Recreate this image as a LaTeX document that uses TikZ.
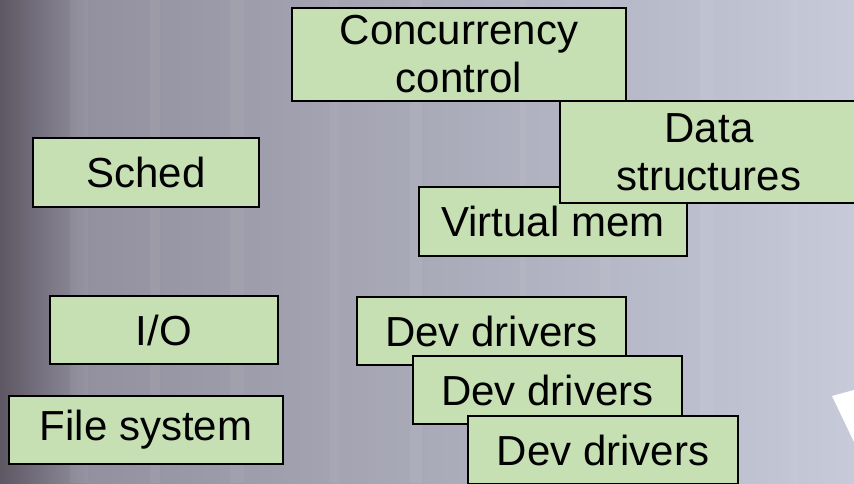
\documentclass[tikz,border=0pt]{standalone}
\usepackage{fontspec}
\setmainfont{Liberation Sans}
\usetikzlibrary{positioning}
\definecolor{boxgreen}{HTML}{C6E0B4}
\definecolor{bgdark}{HTML}{5E5764}
\definecolor{bgmid}{HTML}{93919F}
\definecolor{bgcentre}{HTML}{ABAFC0}
\definecolor{bglight}{HTML}{C6CAD9}

\begin{document}
\begin{tikzpicture}[
    x=1pt, y=-1pt,
    part/.style={draw=black, fill=boxgreen, line width=2pt, inner sep=0pt,
        align=center, font=\fontsize{42}{48}\selectfont},
    oneline/.style={part, minimum height=68pt}
]

    % Canvas: 854 x 483, pixel coordinates, y grows downwards
    \useasboundingbox (0,0) rectangle (854,483);
    \clip (0,0) rectangle (854,483);

    % 1. Background (stands in for the photo)
    \shade[left color=bgdark, right color=bgmid] (0,0) rectangle (90,483);
    \shade[left color=bgmid, middle color=bgcentre, right color=bglight] (90,0) rectangle (854,483);
    \foreach \x/\w in {70/18, 150/10, 230/14, 330/8, 410/12, 520/6, 600/10, 700/14, 790/8} {
        \fill[white, opacity=0.05] (\x,0) rectangle (\x+\w,483);
    }
    \fill[white] (832,396) -- (854,390) -- (854,442) -- cycle;

    % 2. Upper boxes
    \node[part, minimum width=334pt, minimum height=93pt] (conc) at (459,54.5) {Concurrency\\control};
    \node[oneline, minimum width=226pt, minimum height=69pt] (sched) at (146,172) {Sched};
    \node[oneline, minimum width=268pt, minimum height=69pt] (vmem) at (553,221) {Virtual mem};
    \node[part, minimum width=298pt, minimum height=102pt] (data) at (709,152) {Data\\structures};

    % 3. Lower boxes
    \node[oneline, minimum width=228pt] (io) at (164,330) {I/O};
    \node[oneline, minimum width=274pt] (fs) at (146,430) {File system};

    % 4. Stacked device drivers
    \node[oneline, minimum width=269pt] (dev1) at (491.5,331) {Dev drivers};
    \node[oneline, minimum width=269pt] (dev2) at (547.5,390) {Dev drivers};
    \node[oneline, minimum width=270pt] (dev3) at (603,450) {Dev drivers};

\end{tikzpicture}
\end{document}
